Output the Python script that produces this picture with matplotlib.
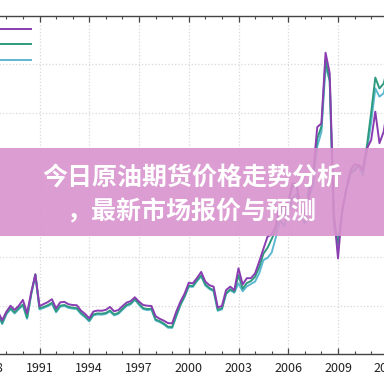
# encoding = utf-8
# 原油价格走势 (季度)

import numpy as np
import matplotlib.pyplot as plt
from matplotlib.patches import Rectangle

plt.rcParams['font.family'] = ['Noto Sans CJK SC', 'DejaVu Sans']

# 1988Q1 .. 2012Q1, 季度数据
start_year = 1988
wti = [16.9, 17.0, 17.5, 14.0,
       17.5, 20.0, 18.3, 20.0,
       22.4, 16.9, 25.5, 33.0,
       19.8, 20.7, 21.5, 22.7,
       18.9, 21.4, 21.6, 20.6,
       20.3, 20.2, 18.0, 16.6,
       14.8, 17.6, 18.0, 17.9,
       18.3, 19.5, 17.7, 18.2,
       19.8, 21.3, 21.9, 23.5,
       21.7, 20.3, 20.0, 19.9,
       15.7, 14.6, 13.8, 12.8,
       12.7, 17.6, 21.7, 25.0,
       29.5, 29.3, 31.5, 34.0,
       30.0, 28.5, 27.9, 19.3,
       19.9, 26.5, 27.9, 26.5,
       35.5, 28.8, 31.4, 31.4,
       33.4, 38.3, 43.5, 48.6,
       49.5, 53.1, 63.2, 60.0,
       63.3, 70.5, 70.5, 60.0,
       58.2, 65.0, 75.4, 94.0,
       95.5, 124.8, 116.3, 58.7,
       39.6, 59.6, 68.2, 76.0,
       78.7, 78.0, 76.1, 85.2,
       88.6, 100.4, 87.3, 92.0,
       102.9]
brent = [16.0, 16.3, 16.8, 12.8,
         16.8, 19.0, 17.2, 19.0,
         20.5, 15.0, 25.0, 33.0,
         18.9, 19.5, 20.2, 21.2,
         17.7, 20.0, 20.3, 19.5,
         19.2, 19.0, 17.0, 15.6,
         13.9, 16.4, 16.8, 16.7,
         17.0, 18.0, 16.4, 17.0,
         18.7, 20.3, 21.0, 22.8,
         20.8, 19.0, 18.6, 18.8,
         14.3, 13.6, 12.6, 11.3,
         11.2, 16.0, 20.6, 24.0,
         28.3, 28.2, 30.6, 32.6,
         28.8, 27.3, 26.4, 18.3,
         18.9, 25.2, 26.8, 25.8,
         32.7, 27.0, 29.4, 30.2,
         32.0, 36.0, 41.5, 44.0,
         47.6, 51.6, 61.5, 56.9,
         61.8, 69.6, 69.7, 59.7,
         57.8, 68.8, 74.9, 89.3,
         94.2, 121.8, 113.0, 55.5,
         45.9, 59.1, 68.3, 74.6,
         76.4, 78.3, 76.9, 86.5,
         100.0, 114.5, 110.0, 112.0,
         118.6]
dubai = [15.6, 15.9, 16.4, 12.4,
         16.4, 18.6, 16.8, 18.6,
         20.1, 14.6, 24.6, 32.6,
         18.5, 19.1, 19.8, 20.8,
         17.3, 19.6, 19.9, 19.1,
         18.8, 18.6, 16.6, 15.2,
         13.5, 16.0, 16.4, 16.3,
         16.6, 17.6, 16.0, 16.6,
         18.3, 19.9, 20.6, 22.4,
         20.4, 18.6, 18.2, 18.4,
         13.9, 13.2, 12.2, 10.9,
         10.8, 15.6, 20.2, 23.6,
         27.9, 27.8, 30.2, 32.2,
         28.4, 26.9, 26.0, 17.9,
         18.5, 24.8, 26.4, 25.4,
         29.3, 26.0, 28.0, 29.0,
         30.0, 33.5, 38.9, 39.8,
         42.0, 48.3, 55.3, 53.0,
         57.8, 64.7, 66.2, 56.7,
         54.0, 64.6, 70.3, 86.0,
         92.0, 119.0, 113.5, 53.0,
         45.0, 58.6, 68.1, 75.4,
         75.9, 78.0, 73.9, 84.4,
         96.0, 110.0, 106.6, 108.0,
         116.0]
series_labels = [" ", " ", " "]
title_lines = ["今日原油期货价格走势分析", "，最新市场报价与预测"]
major_years = list(range(1985, 2016, 3))


def main():
    t = start_year + np.arange(len(wti)) / 4.0

    fig = plt.figure(figsize=(3.84, 3.84), dpi=100)
    # 轴比图片更大, 只露出中间一段
    ax = fig.add_axes([-0.1142, 0.0781, 1.2155, 0.8802])

    l1, = ax.plot(t, wti, color="#8A3DB0", linewidth=1.4, zorder=4, label=series_labels[0])
    l2, = ax.plot(t, brent, color="#2E9A80", linewidth=1.4, zorder=3, label=series_labels[1])
    l3, = ax.plot(t, dubai, color="#5CB8D0", linewidth=1.4, zorder=2, label=series_labels[2])

    ax.set_ylim(0, 140)
    ax.set_xticks(major_years)
    ax.set_xticks(range(1980, 2020), minor=True)
    ax.set_yticks(range(0, 141, 20))
    ax.tick_params(axis="x", which="both", direction="in", top=True, bottom=True,
                   labelsize=9, labelcolor="#222222", color="#444444", pad=6)
    ax.tick_params(axis="x", which="major", length=4.5, width=0.9)
    ax.tick_params(axis="x", which="minor", length=2.2, width=0.8)
    for s in ax.spines.values():
        s.set_color("#444444")
        s.set_linewidth(1.0)

    ax.grid(True, which="major", linestyle=":", color="#d8d8d8", linewidth=0.9)
    ax.set_axisbelow(True)

    # x 范围: 让 1991 落在 39.5px, 2009 落在 338px
    fig.canvas.draw()
    x0, x1 = ax.bbox.x0, ax.bbox.x1
    k = (338.0 - 39.5) / 18.0
    lo = 1991 - (39.5 - x0) / k
    ax.set_xlim(lo, lo + (x1 - x0) / k)

    # 图例 (文字在图片外)
    ax.legend(handles=[l1, l2, l3], labels=series_labels, loc="upper left",
              bbox_to_anchor=(-0.04, 0.953), bbox_transform=fig.transFigure,
              frameon=False, fontsize=9, handlelength=3.3, labelspacing=0.2,
              borderaxespad=0)

    # 标题横幅
    fig.add_artist(Rectangle((0, 0.3854), 1, 0.2292, transform=fig.transFigure,
                             facecolor="#D893CE", edgecolor="none", alpha=0.9, zorder=10))
    fig.text(0.5, 0.5365, title_lines[0], ha="center", va="center", color="white",
             fontsize=18, fontweight="bold", zorder=11)
    fig.text(0.5, 0.448, title_lines[1], ha="center", va="center", color="white",
             fontsize=18, fontweight="bold", zorder=11)

    fig.savefig("out.png", dpi=100)


if __name__ == '__main__':
    main()
